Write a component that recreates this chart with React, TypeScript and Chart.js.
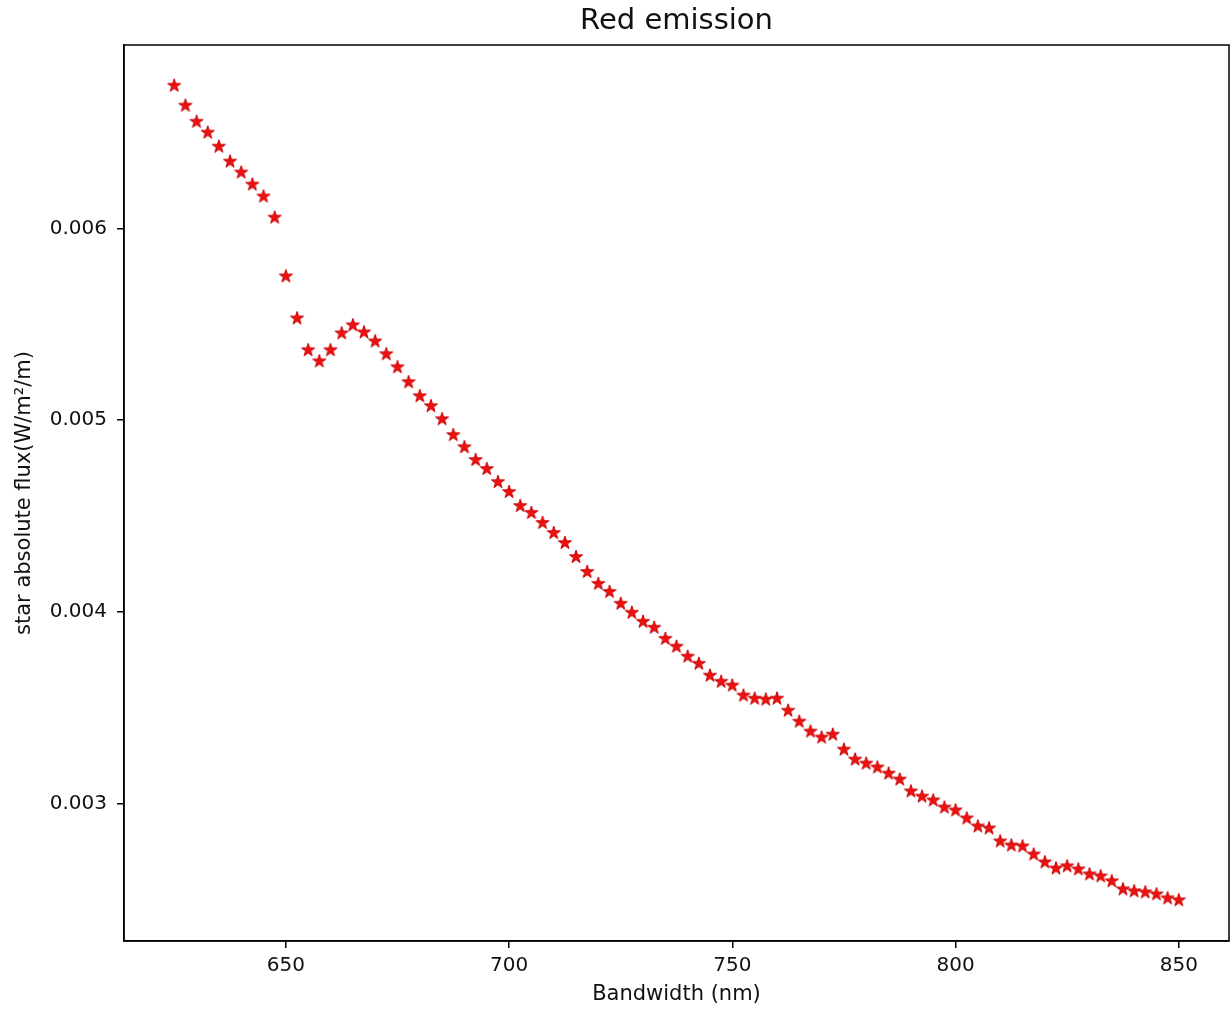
import React, { useEffect, useRef } from "react";
import { Chart, registerables } from "chart.js";

Chart.register(...registerables);

const wavelengths: number[] = [
  625, 627.5, 630, 632.5, 635, 637.5, 640, 642.5, 645, 647.5,
  650, 652.5, 655, 657.5, 660, 662.5, 665, 667.5, 670, 672.5,
  675, 677.5, 680, 682.5, 685, 687.5, 690, 692.5, 695, 697.5,
  700, 702.5, 705, 707.5, 710, 712.5, 715, 717.5, 720, 722.5,
  725, 727.5, 730, 732.5, 735, 737.5, 740, 742.5, 745, 747.5,
  750, 752.5, 755, 757.5, 760, 762.5, 765, 767.5, 770, 772.5,
  775, 777.5, 780, 782.5, 785, 787.5, 790, 792.5, 795, 797.5,
  800, 802.5, 805, 807.5, 810, 812.5, 815, 817.5, 820, 822.5,
  825, 827.5, 830, 832.5, 835, 837.5, 840, 842.5, 845, 847.5,
  850,
];

const flux: number[] = [
  0.006745, 0.006641, 0.006557, 0.0065, 0.006427, 0.006349, 0.006292, 0.006229, 0.006167, 0.006057,
  0.00575, 0.005531, 0.005365, 0.005307, 0.005365, 0.005453, 0.005495, 0.005458, 0.005411, 0.005344,
  0.005276, 0.005198, 0.005125, 0.005073, 0.005005, 0.004922, 0.004859, 0.004792, 0.004745, 0.004677,
  0.004625, 0.004552, 0.004516, 0.004464, 0.004411, 0.004359, 0.004286, 0.004208, 0.004146, 0.004104,
  0.004042, 0.003995, 0.003948, 0.003917, 0.003859, 0.003818, 0.003766, 0.003729, 0.003667, 0.003635,
  0.003615, 0.003563, 0.003547, 0.003542, 0.003547, 0.003484, 0.003427, 0.003375, 0.003344, 0.003359,
  0.003281, 0.003229, 0.003208, 0.003188, 0.003156, 0.003125, 0.003063, 0.003036, 0.003016, 0.002979,
  0.002964, 0.002922, 0.00288, 0.00287, 0.002802, 0.002781, 0.002776, 0.002734, 0.002693, 0.002661,
  0.002672, 0.002656, 0.00263, 0.00262, 0.002594, 0.002552, 0.002542, 0.002536, 0.002526, 0.002505,
  0.002495,
];

const xTicks: number[] = [650, 700, 750, 800, 850];
const yTicks: number[] = [0.003, 0.004, 0.005, 0.006];

const TITLE = "Red emission";
const X_LABEL = "Bandwidth (nm)";
const Y_LABEL = "star absolute flux(W/m\u00B2/m)";

function makeStar(r: number): HTMLCanvasElement {
  const size = Math.ceil(r * 2 + 4);
  const c = document.createElement("canvas");
  c.width = size;
  c.height = size;
  const ctx = c.getContext("2d")!;
  const cx = size / 2;
  const cy = size / 2;
  const inner = r * 0.381966;
  ctx.beginPath();
  for (let i = 0; i < 10; i++) {
    const rad = i % 2 === 0 ? r : inner;
    const a = -Math.PI / 2 + (i * Math.PI) / 5;
    const px = cx + rad * Math.cos(a);
    const py = cy + rad * Math.sin(a);
    if (i === 0) ctx.moveTo(px, py);
    else ctx.lineTo(px, py);
  }
  ctx.closePath();
  ctx.fillStyle = "#f01010";
  ctx.fill();
  ctx.lineWidth = 1;
  ctx.strokeStyle = "#c80000";
  ctx.stroke();
  return c;
}

const frame = {
  id: "frame",
  afterDraw(chart: any) {
    const { ctx, chartArea } = chart;
    ctx.save();
    ctx.strokeStyle = "#000";
    ctx.lineWidth = 1.5;
    ctx.strokeRect(chartArea.left, chartArea.top, chartArea.right - chartArea.left, chartArea.bottom - chartArea.top);
    ctx.restore();
  },
};

export default function App() {
  const ref = useRef<HTMLCanvasElement | null>(null);

  useEffect(() => {
    if (!ref.current) return;
    const star = makeStar(6.9);
    const data = wavelengths.map((x, i) => ({ x, y: flux[i] }));
    const tickFont = { family: "'DejaVu Sans', sans-serif", size: 20 };
    const labelFont = { family: "'DejaVu Sans', sans-serif", size: 21 };
    const chart = new Chart(ref.current, {
      type: "scatter",
      data: {
        datasets: [
          {
            data,
            pointStyle: star as any,
            pointRadius: 7,
            pointHoverRadius: 7,
            showLine: false,
          },
        ],
      },
      plugins: [frame],
      options: {
        animation: false,
        responsive: false,
        devicePixelRatio: 1,
        events: [],
        layout: { autoPadding: false, padding: { left: 0, right: 3, top: 0, bottom: 0 } },
        plugins: {
          legend: { display: false },
          tooltip: { enabled: false },
          title: {
            display: true,
            text: TITLE,
            fullSize: false,
            color: "#111",
            font: { family: "'DejaVu Sans', sans-serif", size: 29, weight: "normal" },
            padding: { top: 4, bottom: 6.2 },
          },
        },
        scales: {
          x: {
            type: "linear",
            min: 613.75,
            max: 861.25,
            afterBuildTicks: (s: any) => {
              s.ticks = xTicks.map((v) => ({ value: v }));
            },
            afterFit: (s: any) => {
              s.height = 69;
              s.paddingLeft = 0;
              s.paddingRight = 0;
            },
            grid: { display: true, drawOnChartArea: false, drawTicks: true, tickLength: 7, color: "#000", lineWidth: 1.5 },
            border: { display: true, color: "#000", width: 1.5 },
            ticks: { color: "#111", font: tickFont, padding: 6, maxRotation: 0, callback: (v: any) => String(v) },
            title: { display: true, text: X_LABEL, color: "#111", font: labelFont, padding: { top: 0, bottom: 2.5 } },
          },
          y: {
            type: "linear",
            min: 0.0022825,
            max: 0.0069575,
            afterBuildTicks: (s: any) => {
              s.ticks = yTicks.map((v) => ({ value: v }));
            },
            afterFit: (s: any) => {
              s.width = 124;
              s.paddingTop = 0;
              s.paddingBottom = 0;
            },
            grid: { display: true, drawOnChartArea: false, drawTicks: true, tickLength: 7, color: "#000", lineWidth: 1.5 },
            border: { display: true, color: "#000", width: 1.5 },
            ticks: { color: "#111", font: tickFont, padding: 10, callback: (v: any) => Number(v).toFixed(3) },
            title: { display: true, text: Y_LABEL, color: "#111", font: labelFont, padding: { top: 11.5, bottom: 0 } },
          },
        },
      },
    });
    return () => chart.destroy();
  }, []);

  return (
    <div style={{ position: "absolute", left: 0, top: 0, width: 1232, height: 1010, background: "#fff" }}>
      <canvas ref={ref} width={1232} height={1010} />
    </div>
  );
}
